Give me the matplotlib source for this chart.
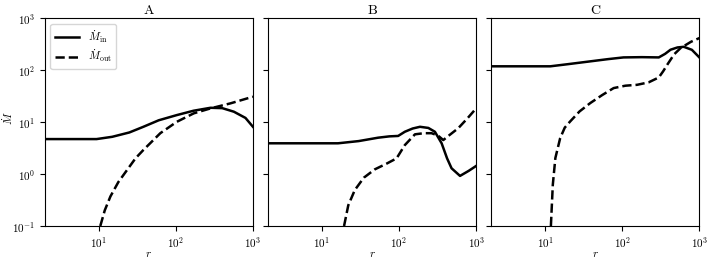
import matplotlib.pyplot as plt

plt.rcParams['font.family'] = 'serif'
plt.rcParams['font.serif'] = ['cmr10']
plt.rcParams['mathtext.fontset'] = 'cm'
plt.rcParams['axes.formatter.use_mathtext'] = True

titles = ['A', 'B', 'C']

# panel A
r_in_a = [2, 5, 9.4, 15, 25, 38, 60, 103, 170, 282, 400, 566, 800, 1000]
m_in_a = [4.7, 4.7, 4.7, 5.2, 6.3, 8.1, 10.8, 13.6, 16.5, 18.8, 18.5, 15.8, 12.0, 8.1]
r_out_a = [10.5, 12, 14.2, 18, 23.3, 30, 38, 63, 103, 171, 282, 513, 1000]
m_out_a = [0.1, 0.2, 0.37, 0.7, 1.19, 2.0, 2.9, 6.1, 10.1, 14.7, 18.3, 22.9, 30.7]

# panel B
r_in_b = [2, 8, 16.2, 30, 53.7, 75, 97.5, 119, 150, 187, 240, 292, 357, 420, 480, 618, 800, 1000]
m_in_b = [3.9, 3.9, 3.9, 4.3, 5.0, 5.3, 5.4, 6.5, 7.5, 8.1, 7.7, 6.5, 3.9, 2.0, 1.29, 0.92, 1.15, 1.43]
r_out_b = [19.4, 22, 26.7, 35, 48.6, 70, 93, 119, 161, 210, 264, 320, 375, 450, 586, 780, 1000]
m_out_b = [0.1, 0.25, 0.49, 0.85, 1.23, 1.6, 2.0, 3.6, 5.8, 6.1, 6.1, 5.5, 4.5, 5.6, 7.6, 12.0, 18.3]

# panel C
r_in_c = [2, 6, 11.7, 20, 38.6, 65, 104, 180, 298, 360, 423, 520, 628, 800, 1000]
m_in_c = [118, 118, 118, 130, 147, 162, 175, 177, 175, 205, 246, 272, 280, 245, 175]
r_out_c = [11.9, 12.6, 13.6, 15.7, 18, 21.2, 28, 38.6, 55, 77.5, 110, 156, 220, 298, 340, 383, 470, 570, 780, 1000]
m_out_c = [0.1, 0.62, 2.03, 4.9, 7.8, 10.3, 16.0, 23.2, 33, 45, 50, 52, 58, 72, 95, 126, 200, 264, 350, 412]

r_in = [r_in_a, r_in_b, r_in_c]
m_in = [m_in_a, m_in_b, m_in_c]
r_out = [r_out_a, r_out_b, r_out_c]
m_out = [m_out_a, m_out_b, m_out_c]

fig, axes = plt.subplots(1, 3, sharey=True, figsize=(7.1, 2.58), dpi=100)
fig.subplots_adjust(left=0.063, right=0.985, top=0.93, bottom=0.124, wspace=0.072)

for i, ax in enumerate(axes):
    ax.plot(r_in[i], m_in[i], 'k-', lw=1.8, label=r'$\dot{M}_{\rm in}$')
    ax.plot(r_out[i], m_out[i], 'k--', lw=1.8, label=r'$\dot{M}_{\rm out}$')
    ax.set_xscale('log')
    ax.set_yscale('log')
    ax.set_xlim(2, 1000)
    ax.set_ylim(0.1, 1000)
    ax.minorticks_off()
    ax.tick_params(labelsize=8)
    ax.set_title(titles[i], fontsize=10, pad=3)
    ax.set_xlabel(r'$r$', fontsize=8, labelpad=-1)

axes[0].set_ylabel(r'$\dot{M}$', fontsize=8)
axes[0].yaxis.set_label_coords(-0.145, 0.52)
axes[0].legend(loc='upper left', fontsize=8, labelspacing=0.3, borderpad=0.4,
               handlelength=2.2)

plt.savefig('out.png')
